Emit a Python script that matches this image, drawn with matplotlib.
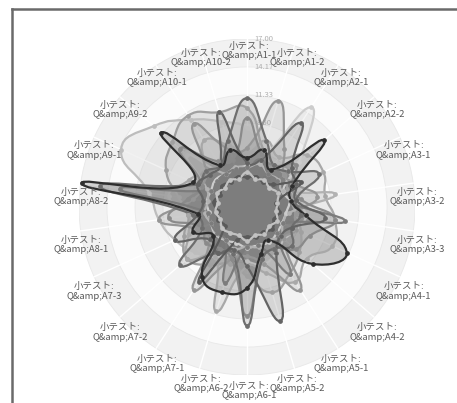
import numpy as np
import matplotlib
matplotlib.use("Agg")
import matplotlib.pyplot as plt
from matplotlib.path import Path
from matplotlib.patches import PathPatch, Circle
from matplotlib.lines import Line2D

plt.rcParams['font.family'] = ['Noto Sans CJK JP', 'DejaVu Sans']

# Categories (quiz items)
items = ["A1-1", "A1-2", "A2-1", "A2-2", "A3-1", "A3-2", "A3-3", "A4-1",
         "A4-2", "A5-1", "A5-2", "A6-1", "A6-2", "A7-1", "A7-2", "A7-3",
         "A8-1", "A8-2", "A9-1", "A9-2", "A10-1", "A10-2"]
labels = ["小テスト:\nQ&amp;" + s for s in items]

axis_max = 17.0
ticks = [2.83, 5.67, 8.50, 11.33, 14.17, 17.00]

# One list per student (approximate)
s01 = [5.0, 6.0, 4.5, 10.3, 5.0, 4.5, 6.0, 11.1, 8.8, 4.0, 5.0, 8.2, 9.0, 8.4, 4.5, 6.0, 5.0, 16.9, 6.0, 11.5, 5.0, 6.0]
s02 = [8.0, 6.0, 5.0, 5.5, 5.0, 5.0, 6.0, 5.5, 5.0, 5.5, 6.0, 5.5, 5.0, 6.0, 7.0, 8.0, 9.0, 10.0, 14.0, 12.5, 10.5, 9.0]
s03 = [11.0, 7.0, 5.0, 5.5, 8.0, 5.0, 5.5, 5.0, 6.0, 5.0, 5.5, 12.0, 5.0, 5.5, 9.0, 5.0, 5.5, 15.0, 5.5, 5.5, 5.0, 7.0]
s04 = [6.0, 11.2, 7.0, 5.0, 5.5, 7.2, 5.0, 5.5, 5.0, 10.0, 6.0, 5.0, 5.5, 10.0, 5.0, 5.5, 9.0, 5.5, 5.0, 5.5, 10.0, 6.0]
s05 = [4.2, 5.0, 12.0, 7.0, 4.0, 4.3, 4.0, 3.9, 4.0, 4.2, 4.0, 4.1, 3.8, 4.0, 4.2, 4.0, 3.9, 4.1, 4.0, 4.2, 4.0, 4.1]
s06 = [4.5, 5.0, 10.1, 6.0, 5.5, 5.0, 8.0, 5.0, 4.5, 5.5, 12.0, 6.0, 4.5, 5.5, 5.0, 8.0, 5.0, 4.5, 5.5, 5.0, 5.0, 10.0]
s07 = [9.0, 5.5, 5.0, 6.5, 5.0, 5.5, 9.0, 7.0, 6.5, 5.0, 5.5, 11.0, 5.5, 5.0, 5.5, 5.0, 8.0, 6.0, 5.0, 9.0, 5.5, 5.0]
s08 = [5.5, 7.0, 6.0, 8.0, 8.5, 8.0, 9.0, 9.5, 8.0, 9.0, 7.0, 6.0, 11.0, 6.0, 8.0, 6.5, 6.0, 8.0, 6.5, 6.0, 8.0, 6.5]
s09 = [3.0, 3.2, 3.0, 3.5, 6.0, 3.0, 3.3, 3.0, 3.4, 3.0, 3.2, 3.0, 3.5, 9.0, 3.0, 3.2, 3.0, 3.4, 3.0, 3.3, 3.0, 3.2]
s10 = [4.0, 4.5, 4.0, 4.2, 4.0, 9.0, 4.3, 4.0, 4.5, 4.0, 4.2, 4.0, 4.4, 4.0, 4.1, 4.0, 4.3, 4.0, 4.5, 8.0, 4.0, 4.2]
s11 = [4.0, 5.0, 4.0, 4.0, 3.5, 4.0, 10.0, 4.0, 4.0, 8.0, 4.0, 4.0, 8.0, 4.0, 4.0, 4.0, 4.0, 13.0, 4.0, 4.0, 4.0, 4.0]
s12 = [3.5, 3.0, 3.2, 3.0, 3.4, 3.1, 3.0, 3.3, 3.0, 3.2, 3.0, 3.4, 3.0, 3.1, 3.3, 3.0, 3.2, 3.0, 3.3, 3.0, 3.2, 3.0]
s13 = [10.0, 6.0, 5.0, 5.0, 4.5, 4.5, 5.0, 6.0, 7.0, 8.0, 9.0, 7.0, 6.0, 7.0, 8.0, 7.0, 6.0, 7.0, 9.0, 10.0, 11.0, 10.0]

series = [s02, s13, s08, s05, s10, s04, s07, s11, s03, s06, s09, s12, s01]
colors = ["#bdbdbd", "#a0a0a0", "#a8a8a8", "#cccccc", "#b2b2b2", "#969696",
          "#8a8a8a", "#7c7c7c", "#6e6e6e", "#646464", "#5a5a5a", "#c2c2c2",
          "#2e2e2e"]

tension = 0.5


def smooth_path(xs, ys, t):
    # closed spline like chart.js radar lines
    pts = np.column_stack([xs, ys])
    n = len(pts)
    cin, cout = [], []
    for i in range(n):
        p0, p1, p2 = pts[i - 1], pts[i], pts[(i + 1) % n]
        d01 = np.hypot(*(p1 - p0))
        d12 = np.hypot(*(p2 - p1))
        s = d01 + d12
        fa = t * d01 / s
        fb = t * d12 / s
        cin.append(p1 - fa * (p2 - p0))
        cout.append(p1 + fb * (p2 - p0))
    verts = [pts[0]]
    codes = [Path.MOVETO]
    for i in range(n):
        j = (i + 1) % n
        verts += [cout[i], cin[j], pts[j]]
        codes += [Path.CURVE4] * 3
    return Path(verts, codes)


fig = plt.figure(figsize=(4.57, 4.03), dpi=100)
ax = fig.add_axes([79 / 457, 28 / 403, 336 / 457, 336 / 403])
ax.set_xlim(-axis_max, axis_max)
ax.set_ylim(-axis_max, axis_max)
ax.set_aspect("equal")
ax.axis("off")

n = len(items)
theta = np.arange(n) * 2 * np.pi / n

# background bands
band_cols = ["#fbfbfb", "#f2f2f2"]
edges = [0] + ticks
for k in range(len(ticks) - 1, -1, -1):
    ax.add_patch(Circle((0, 0), edges[k + 1], facecolor=band_cols[k % 2],
                        edgecolor="#e8e8e8", lw=0.6, zorder=0))
for a in theta:
    ax.plot([0, axis_max * np.sin(a)], [0, axis_max * np.cos(a)],
            color="#ffffff", lw=1.0, zorder=0.5)

for v in ticks:
    ax.text(1.7, v, "%.2f" % v, fontsize=5.5, color="#b0b0b0",
            ha="center", va="center", zorder=0.6)

for vals, c in zip(series, colors):
    r = np.array(vals)
    xs = r * np.sin(theta)
    ys = r * np.cos(theta)
    p = smooth_path(xs, ys, tension)
    ax.add_patch(PathPatch(p, facecolor=c, alpha=0.2, lw=0, zorder=2))
    ax.add_patch(PathPatch(p, facecolor="none", edgecolor=c, lw=1.6, zorder=3))
    ax.plot(xs, ys, "o", color=c, ms=2.4, zorder=4)

# category labels
for a, lab in zip(theta, labels):
    lx = 0.2 + 17.2 * np.sin(a)
    ly = -1.42 + 17.2 * np.cos(a)
    ax.text(lx, ly, lab, fontsize=6.8, color="#585858", ha="center",
            va="center", linespacing=1.05, zorder=5, clip_on=False)

# frame of the screenshot
fig.add_artist(Line2D([12 / 457, 1], [1 - 9 / 403, 1 - 9 / 403], color="#6a6a6a", lw=1.8))
fig.add_artist(Line2D([12 / 457, 12 / 457], [0, 1 - 9 / 403], color="#6a6a6a", lw=1.8))

fig.savefig("out.png", dpi=100)
